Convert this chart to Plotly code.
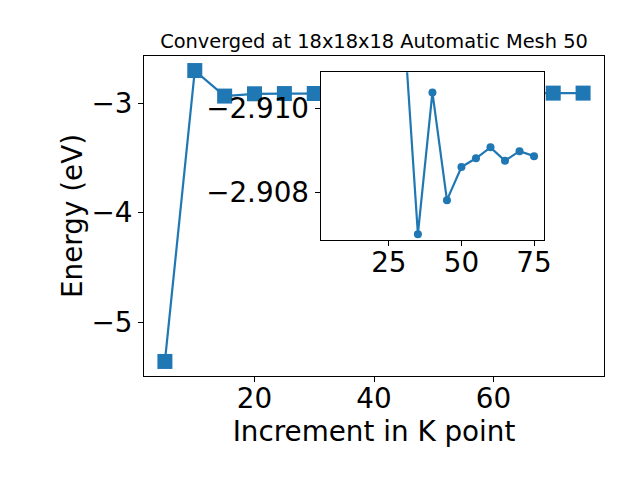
import plotly.graph_objects as go

# ---- data ----
kpoints = [5, 10, 15, 20, 25, 30, 35, 40, 45, 50, 55, 60, 65, 70, 75]
energy = [-5.357, -2.703, -2.936, -2.915, -2.913, -2.9122, -2.9070, -2.91038,
          -2.90781, -2.90860, -2.90881, -2.90907, -2.90875, -2.90898, -2.90886]

# the zoomed inset shows the converging part of the same series
inset_kpoints = kpoints[2:]
inset_energy = energy[2:]

main_xticks = [20, 40, 60]
main_yticks = [-5, -4, -3]
inset_xticks = [25, 50, 75]
inset_yticks = [-2.910, -2.908]
inset_ylim = [-2.90686, -2.91086]   # inverted axis as in the reference

title_text = "Converged at 18x18x18 Automatic Mesh 50"
xlabel = "Increment in K point"
ylabel = "Energy (eV)"

BLUE = "#1f77b4"
FONT = "DejaVu Sans"
OFF = 8  # browser body margin offset


def fmt(v, nd=0):
    s = f"{abs(v):.{nd}f}"
    return ("\u2212" + s) if v < 0 else s


def padded(vals, frac=0.05):
    lo, hi = min(vals), max(vals)
    d = (hi - lo) * frac
    return [lo - d, hi + d]


xr = padded(kpoints)
yr = padded(energy)

fig = go.Figure()
fig.add_trace(go.Scatter(
    x=kpoints, y=energy, mode="lines+markers",
    line=dict(color=BLUE, width=2.2),
    marker=dict(symbol="square", size=15, color=BLUE, line=dict(width=0)),
    xaxis="x", yaxis="y", showlegend=False, hoverinfo="skip"))
fig.add_trace(go.Scatter(
    x=inset_kpoints, y=inset_energy, mode="lines+markers",
    line=dict(color=BLUE, width=2.2),
    marker=dict(symbol="circle", size=8, color=BLUE, line=dict(width=0)),
    xaxis="x2", yaxis="y2", showlegend=False, hoverinfo="skip"))

tickfont = dict(family=FONT, size=27.8, color="black")
axis_common = dict(showgrid=False, zeroline=False, showline=True, linecolor="black",
                   linewidth=1.1, mirror=True, ticks="outside", ticklen=5,
                   tickwidth=1.1, tickcolor="black", tickfont=tickfont)

fig.update_layout(
    width=640, height=480,
    margin=dict(l=144 - OFF, r=36 + OFF, t=56 - OFF, b=104 + OFF, autoexpand=False),
    paper_bgcolor="white", plot_bgcolor="white",
    template="none",
    font=dict(family=FONT, color="black"),
    title=dict(text=title_text, x=(374 - OFF) / 640, xanchor="center",
               y=1 - (41.7 - OFF) / 480, yanchor="middle", yref="container",
               font=dict(family=FONT, size=19.4, color="black")),
    xaxis=dict(axis_common, domain=[0, 1], range=xr, ticklabelstandoff=-7,
               tickvals=main_xticks, ticktext=[fmt(v) for v in main_xticks],
               title=dict(text=xlabel, font=dict(family=FONT, size=27.8), standoff=6)),
    yaxis=dict(axis_common, domain=[0, 1], range=yr,
               tickvals=main_yticks, ticktext=[fmt(v) for v in main_yticks],
               title=dict(text=ylabel, font=dict(family=FONT, size=27.8), standoff=0)),
    xaxis2=dict(axis_common, domain=[0.384, 0.870], range=xr, anchor="y2",
                ticklabelstandoff=-7,
                tickvals=inset_xticks, ticktext=[fmt(v) for v in inset_xticks]),
    yaxis2=dict(axis_common, domain=[0.425, 0.949], range=inset_ylim, anchor="x2",
                tickvals=inset_yticks, ticktext=[fmt(v, 3) for v in inset_yticks]),
)

fig.write_html("out.html")
